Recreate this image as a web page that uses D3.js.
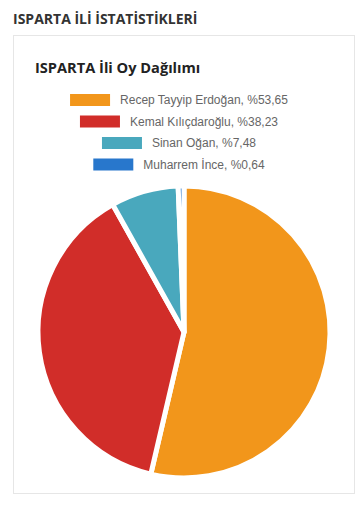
<!DOCTYPE html>
<html>
<head>
<meta charset="utf-8">
<script src="https://cdn.jsdelivr.net/npm/d3@7"></script>
<style>
  body { margin: 0; background: #fff; }
  svg { display: block; }
</style>
</head>
<body>
<svg width="358" height="505"></svg>
<script>
const candidates = ["Recep Tayyip Erdoğan", "Kemal Kılıçdaroğlu", "Sinan Oğan", "Muharrem İnce"];
const shares = [53.65, 38.23, 7.48, 0.64];
const shareLabels = ["%53,65", "%38,23", "%7,48", "%0,64"];
const colors = ["#f2961b", "#d12d29", "#49a8bd", "#2877cc"];

const svg = d3.select("svg");

svg.append("text")
  .attr("x", 13).attr("y", 24)
  .attr("font-family", "Open Sans").attr("font-weight", 700)
  .attr("font-size", 14).attr("fill", "#333")
  .text("ISPARTA İLİ İSTATİSTİKLERİ");

svg.append("rect")
  .attr("x", 13.5).attr("y", 35.5).attr("width", 341).attr("height", 458)
  .attr("fill", "#fff").attr("stroke", "#e6e6e6");

svg.append("text")
  .attr("x", 35).attr("y", 73)
  .attr("font-family", "Open Sans").attr("font-weight", 700)
  .attr("font-size", 14.6).attr("fill", "#222")
  .text("ISPARTA İli Oy Dağılımı");

// legend, each row centred
const legendCx = 179, rowY = d3.scaleLinear().domain([0, 1]).range([100, 121.5]);
candidates.forEach(function(c, i) {
  const g = svg.append("g");
  const t = g.append("text")
    .attr("font-family", "Arial, Liberation Sans").attr("font-size", 12)
    .attr("fill", "#666").attr("dominant-baseline", "central")
    .attr("y", rowY(i))
    .text(c + ", " + shareLabels[i]);
  const tw = t.node().getComputedTextLength();
  const total = 40 + 10 + tw;
  const x0 = legendCx - total / 2;
  g.append("rect")
    .attr("x", x0).attr("y", rowY(i) - 6).attr("width", 40).attr("height", 12)
    .attr("fill", colors[i]);
  t.attr("x", x0 + 50);
});

const pie = d3.pie().sort(null).value(function(d) { return d; });
const arc = d3.arc().innerRadius(0).outerRadius(146);

svg.append("g").attr("transform", "translate(184,332)")
  .selectAll("path")
  .data(pie(shares))
  .enter()
  .append("path")
  .attr("d", arc)
  .attr("fill", function(d, i) { return colors[i]; })
  .attr("stroke", "#fff")
  .attr("stroke-width", 5)
  .attr("stroke-linejoin", "round");
</script>
</body>
</html>
